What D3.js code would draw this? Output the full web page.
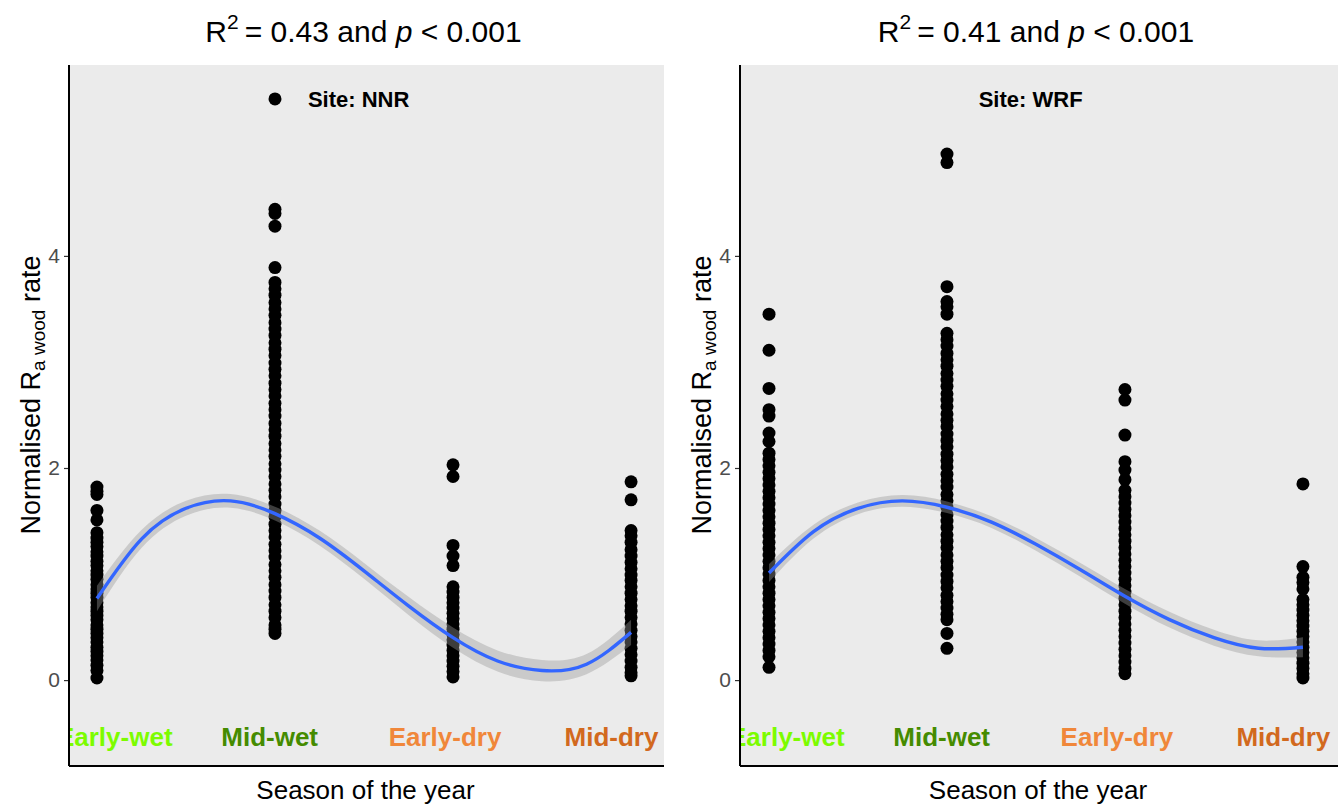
<!DOCTYPE html>
<html>
<head>
<meta charset="utf-8">
<script src="https://cdn.jsdelivr.net/npm/d3@7"></script>
<style>
  html, body { margin: 0; padding: 0; background: #ffffff; }
  svg { display: block; font-family: "Liberation Sans", Arial, sans-serif; }
</style>
</head>
<body>
<svg id="chart" width="1343" height="804"></svg>
<script>
// Seasons (x positions 1..4) and their label colours
const seasons = ["Early-wet", "Mid-wet", "Early-dry", "Mid-dry"];
const seasonColors = ["#7CFC00", "#458B00", "#F0873A", "#D2691E"];
const seasonLabelX = [1.1, 1.97, 2.955, 3.89];

// Normalised Ra wood rates, site NNR
const nnrEarlyWet = [1.82, 1.78, 1.75, 1.60, 1.51, 1.39, 1.34, 1.30, 1.26, 1.21, 1.17, 1.12, 1.08, 1.03, 0.99, 0.95, 0.90, 0.86, 0.82, 0.78, 0.73, 0.69, 0.65, 0.61, 0.57, 0.52, 0.48, 0.44, 0.40, 0.36, 0.31, 0.27, 0.23, 0.19, 0.14, 0.09, 0.02];
const nnrMidWet = [5.48, 4.44, 4.40, 4.28, 3.89, 3.75, 3.69, 3.63, 3.56, 3.50, 3.44, 3.37, 3.31, 3.25, 3.18, 3.12, 3.06, 2.99, 2.93, 2.87, 2.80, 2.74, 2.68, 2.61, 2.55, 2.49, 2.42, 2.36, 2.30, 2.23, 2.17, 2.11, 2.04, 1.98, 1.92, 1.85, 1.79, 1.73, 1.66, 1.60, 1.54, 1.47, 1.41, 1.35, 1.28, 1.22, 1.16, 1.09, 1.03, 0.97, 0.90, 0.84, 0.78, 0.71, 0.65, 0.59, 0.52, 0.48, 0.44];
const nnrEarlyDry = [2.03, 1.92, 1.27, 1.17, 1.08, 0.88, 0.83, 0.78, 0.73, 0.68, 0.63, 0.58, 0.53, 0.48, 0.43, 0.38, 0.33, 0.28, 0.23, 0.18, 0.13, 0.08, 0.03];
const nnrMidDry = [1.87, 1.70, 1.41, 1.36, 1.30, 1.23, 1.17, 1.11, 1.05, 0.99, 0.94, 0.88, 0.82, 0.76, 0.70, 0.65, 0.59, 0.53, 0.47, 0.41, 0.36, 0.30, 0.24, 0.18, 0.12, 0.07, 0.04];

// Normalised Ra wood rates, site WRF
const wrfEarlyWet = [3.45, 3.11, 2.75, 2.55, 2.49, 2.33, 2.25, 2.14, 2.08, 2.02, 1.96, 1.90, 1.84, 1.78, 1.72, 1.66, 1.60, 1.54, 1.48, 1.42, 1.36, 1.30, 1.24, 1.18, 1.12, 1.06, 1.00, 0.94, 0.88, 0.82, 0.76, 0.70, 0.64, 0.58, 0.52, 0.46, 0.40, 0.34, 0.28, 0.22, 0.12];
const wrfMidWet = [4.96, 4.88, 3.71, 3.57, 3.52, 3.45, 3.27, 3.21, 3.15, 3.08, 3.02, 2.96, 2.89, 2.83, 2.77, 2.70, 2.64, 2.58, 2.51, 2.45, 2.39, 2.32, 2.26, 2.20, 2.13, 2.07, 2.01, 1.94, 1.88, 1.82, 1.75, 1.69, 1.63, 1.56, 1.50, 1.44, 1.37, 1.31, 1.25, 1.18, 1.12, 1.06, 0.99, 0.93, 0.87, 0.80, 0.74, 0.68, 0.62, 0.57, 0.44, 0.30];
const wrfEarlyDry = [2.74, 2.64, 2.31, 2.06, 1.98, 1.89, 1.79, 1.73, 1.67, 1.61, 1.55, 1.49, 1.43, 1.37, 1.31, 1.25, 1.19, 1.13, 1.07, 1.01, 0.95, 0.89, 0.83, 0.77, 0.71, 0.65, 0.59, 0.53, 0.47, 0.41, 0.35, 0.29, 0.23, 0.17, 0.11, 0.06];
const wrfMidDry = [1.85, 1.07, 0.97, 0.92, 0.86, 0.76, 0.71, 0.66, 0.61, 0.56, 0.51, 0.46, 0.41, 0.36, 0.31, 0.26, 0.21, 0.16, 0.11, 0.06, 0.02];

// Cubic polynomial trend (fitted line and standard-error half-width)
const trendX = [1, 1.25, 1.5, 1.75, 2, 2.25, 2.5, 2.75, 3, 3.25, 3.5, 3.75, 4];
const nnrTrend = [0.77, 1.33, 1.62, 1.69, 1.57, 1.34, 1.03, 0.70, 0.40, 0.18, 0.09, 0.15, 0.45];
const nnrTrendSe = [0.12, 0.085, 0.07, 0.065, 0.065, 0.07, 0.075, 0.085, 0.095, 0.10, 0.10, 0.095, 0.12];
const wrfTrend = [1.01, 1.40, 1.62, 1.69, 1.63, 1.49, 1.28, 1.04, 0.79, 0.57, 0.40, 0.30, 0.31];
const wrfTrendSe = [0.085, 0.065, 0.055, 0.055, 0.055, 0.055, 0.06, 0.065, 0.07, 0.075, 0.075, 0.075, 0.095];

const yTicks = [0, 2, 4];

const panels = [
  { site: "NNR", r2: "0.43", left: 69, right: 664,
    values: [nnrEarlyWet, nnrMidWet, nnrEarlyDry, nnrMidDry],
    trend: nnrTrend, se: nnrTrendSe, xDomain: [0.843, 4.185] },
  { site: "WRF", r2: "0.41", left: 740, right: 1338,
    values: [wrfEarlyWet, wrfMidWet, wrfEarlyDry, wrfMidDry],
    trend: wrfTrend, se: wrfTrendSe, xDomain: [0.837, 4.197] }
];

const svg = d3.select("#chart");
const panelTop = 65, panelBottom = 766;

panels.forEach((p) => {
  const x = d3.scaleLinear().domain(p.xDomain).range([p.left, p.right]);
  const y = d3.scaleLinear().domain([-0.81, 5.80]).range([panelBottom, panelTop]);
  const g = svg.append("g");

  const clipId = "clip-" + p.site;
  svg.append("defs").append("clipPath").attr("id", clipId)
    .append("rect").attr("x", p.left).attr("y", panelTop)
    .attr("width", p.right - p.left).attr("height", panelBottom - panelTop);

  // panel background
  g.append("rect").attr("x", p.left).attr("y", panelTop)
    .attr("width", p.right - p.left).attr("height", panelBottom - panelTop)
    .attr("fill", "#EBEBEB");

  const inner = g.append("g").attr("clip-path", `url(#${clipId})`);

  // observations
  const pts = [];
  p.values.forEach((arr, k) => arr.forEach(v => pts.push({ s: k + 1, v })));
  inner.selectAll("circle.obs").data(pts).join("circle")
    .attr("class", "obs")
    .attr("cx", d => x(d.s)).attr("cy", d => y(d.v))
    .attr("r", 6.5).attr("fill", "#000");

  // trend band and line
  const tr = trendX.map((tx, k) => ({ x: tx, y: p.trend[k], se: p.se[k] }));
  inner.append("path").datum(tr)
    .attr("d", d3.area().curve(d3.curveNatural)
      .x(d => x(d.x)).y0(d => y(d.y - d.se)).y1(d => y(d.y + d.se)))
    .attr("fill", "#999999").attr("fill-opacity", 0.4);
  inner.append("path").datum(tr)
    .attr("d", d3.line().curve(d3.curveNatural).x(d => x(d.x)).y(d => y(d.y)))
    .attr("fill", "none").attr("stroke", "#3366FF").attr("stroke-width", 3.4);

  // season labels
  inner.selectAll("text.season").data(seasons).join("text")
    .attr("class", "season")
    .attr("x", (d, k) => x(seasonLabelX[k]))
    .attr("y", y(-0.54))
    .attr("dy", "0.35em")
    .attr("text-anchor", "middle")
    .attr("font-size", 26).attr("font-weight", "bold")
    .attr("fill", (d, k) => seasonColors[k])
    .text(d => d);

  // site label
  inner.append("text")
    .attr("x", x(2.47)).attr("y", y(5.48)).attr("dy", "0.35em")
    .attr("text-anchor", "middle")
    .attr("font-size", 22).attr("font-weight", "bold").attr("fill", "#000")
    .text("Site: " + p.site);

  // y axis
  const yAxis = d3.axisLeft(y).tickValues(yTicks).tickSize(5).tickPadding(4).tickFormat(d3.format("d"));
  const ya = g.append("g").attr("transform", `translate(${p.left},0)`).call(yAxis);
  ya.select(".domain").remove();
  ya.selectAll(".tick line").attr("stroke", "#333").attr("stroke-width", 1.2);
  ya.selectAll(".tick text").attr("font-size", 21).attr("fill", "#4D4D4D")
    .attr("font-family", "Liberation Sans, Arial, sans-serif");

  // axis lines
  g.append("line").attr("x1", p.left).attr("x2", p.left).attr("y1", panelTop).attr("y2", panelBottom)
    .attr("stroke", "#000").attr("stroke-width", 2);
  g.append("line").attr("x1", p.left).attr("x2", p.right).attr("y1", panelBottom).attr("y2", panelBottom)
    .attr("stroke", "#000").attr("stroke-width", 2);

  const cx = (p.left + p.right) / 2 - 3;

  // title
  const t = svg.append("text").attr("x", cx).attr("y", 42)
    .attr("text-anchor", "middle").attr("font-size", 30).attr("fill", "#000");
  t.append("tspan").text("R");
  t.append("tspan").attr("font-size", 21).attr("dy", -13).text("2");
  t.append("tspan").attr("dy", 13).text("\u2009= " + p.r2 + " and ");
  t.append("tspan").attr("font-style", "italic").text("p");
  t.append("tspan").text(" < 0.001");

  // x axis title
  svg.append("text").attr("x", cx + 2).attr("y", 799)
    .attr("text-anchor", "middle").attr("font-size", 26).attr("fill", "#000")
    .text("Season of the year");

  // y axis title
  const yt = svg.append("text")
    .attr("transform", `translate(${p.left - 29},${395}) rotate(-90)`)
    .attr("text-anchor", "middle").attr("font-size", 27).attr("fill", "#000");
  yt.append("tspan").text("Normalised R");
  yt.append("tspan").attr("font-size", 19).attr("dy", 5).text("a wood");
  yt.append("tspan").attr("dy", -5).text(" rate");
});
</script>
</body>
</html>
